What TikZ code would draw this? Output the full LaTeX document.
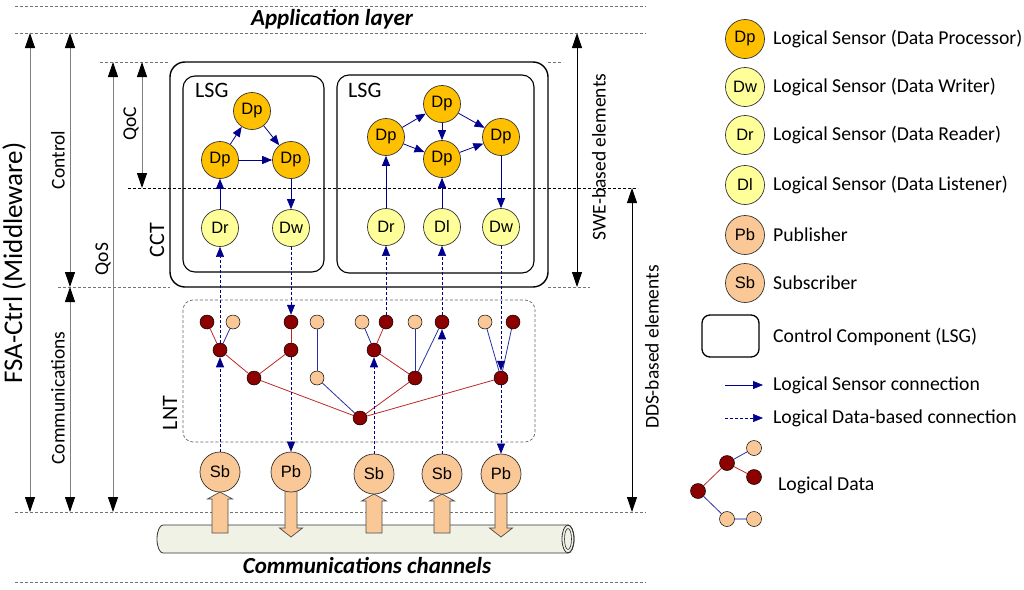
\documentclass[tikz,border=0pt]{standalone}
\usepackage{fontspec}
\setmainfont{Carlito}
\newfontfamily\arialf{Liberation Sans}
\usetikzlibrary{arrows.meta}

\definecolor{dpfill}{RGB}{255,192,0}
\definecolor{drfill}{RGB}{255,255,153}
\definecolor{pbfill}{RGB}{250,200,150}
\definecolor{ldred}{RGB}{140,0,0}
\definecolor{lnred}{RGB}{190,40,40}
\definecolor{lnblue}{RGB}{40,50,160}
\definecolor{lsblue}{RGB}{0,0,140}
\definecolor{pipefill}{RGB}{240,242,230}

\newcommand{\circfont}{\arialf\fontsize{16.5}{18}\selectfont}
\newcommand{\lgdfont}{\fontsize{19.7}{22}\selectfont}
\newcommand{\dimfont}{\fontsize{19.5}{22}\selectfont}
\newcommand{\bigfont}{\fontsize{27}{30}\selectfont}
\newcommand{\boxfont}{\fontsize{22}{26}\selectfont}
\newcommand{\titfont}{\bfseries\itshape\fontsize{23}{26}\selectfont}

% block arrows between pipe and pub/sub
\newcommand{\blkup}[3]{\filldraw[blk] (#1,#2) -- ({#1+12.5},{#2+7}) -- ({#1+8},{#2+7}) -- ({#1+8},#3) -- ({#1-8},#3) -- ({#1-8},{#2+7}) -- ({#1-12.5},{#2+7}) -- cycle;}
\newcommand{\blkdown}[3]{\filldraw[blk] ({#1-6},#2) -- ({#1+6},#2) -- ({#1+6},{#3-9}) -- ({#1+11.5},{#3-9}) -- (#1,#3) -- ({#1-11.5},{#3-9}) -- ({#1-6},{#3-9}) -- cycle;}

\begin{document}
\begin{tikzpicture}[x=1pt,y=-1pt,
  every node/.style={inner sep=0pt},
  lsnode/.style={circle,draw=black!80,line width=0.7pt,minimum size=37pt,font=\circfont},
  proc/.style={lsnode,fill=dpfill},
  rdr/.style={lsnode,fill=drfill},
  pubsub/.style={lsnode,fill=pbfill,minimum size=40pt},
  dred/.style={circle,draw=black,line width=0.5pt,fill=ldred,minimum size=14pt},
  dbeige/.style={circle,draw=black,line width=0.5pt,fill=pbfill,minimum size=14pt},
  lscon/.style={draw=lsblue,line width=0.8pt,-{Triangle[length=10pt,width=8pt]}},
  ldcon/.style={draw=lsblue,line width=0.6pt,dash pattern=on 3pt off 2pt,-{Triangle[length=10pt,width=8pt]}},
  rline/.style={draw=lnred,line width=0.8pt},
  bline/.style={draw=lnblue,line width=0.8pt},
  sepline/.style={draw=black!55,line width=0.7pt,dash pattern=on 3pt off 2pt},
  dimarr/.style={draw=black!50,line width=1pt,{Triangle[length=15pt,width=10pt,color=black]}-{Triangle[length=15pt,width=10pt,color=black]}},
  blk/.style={fill=pbfill,draw=black!70,line width=0.7pt},
  dimlbl/.style={rotate=90,font=\dimfont},
  lgd/.style={anchor=west,font=\lgdfont}]
  \useasboundingbox (0,0) rectangle (1024,589);

  % layer borders
  \draw[sepline] (15,6) -- (646,6);
  \draw[sepline] (15,33) -- (646,33);
  \draw[sepline] (100,62) -- (170,62);
  \draw[sepline] (548,62) -- (563,62);
  \draw[sepline,draw=black] (128,188) -- (638,188);
  \draw[sepline] (58,287) -- (170,287);
  \draw[sepline] (548,287) -- (590,287);
  \draw[sepline] (15,512) -- (646,512);
  \draw[sepline] (15,582) -- (646,582);

  \node[font=\titfont] (applayer) at (332,19) {Application layer};
  \node[font=\titfont] (commch) at (367,566) {Communications channels};

  % extents
  \draw[dimarr] (30,33) -- (30,512);
  \draw[dimarr] (70,33) -- (70,287);
  \draw[dimarr] (70,287) -- (70,512);
  \draw[dimarr] (113,62) -- (113,512);
  \draw[dimarr] (142,62) -- (142,188);
  \draw[dimarr,draw=black,line width=0.8pt] (577,33) -- (577,287);
  \draw[dimarr,draw=black,line width=0.8pt] (632,188) -- (632,512);
  \node[rotate=90,font=\bigfont] (fsa) at (14,263) {FSA-Ctrl (Middleware)};
  \node[dimlbl] (ctrl) at (58,160) {Control};
  \node[dimlbl] (comm) at (58,398) {Communications};
  \node[dimlbl] (qos) at (103,259) {QoS};
  \node[dimlbl] (qoc) at (131,124) {QoC};
  \node[dimlbl] (swe) at (599,157) {SWE-based elements};
  \node[dimlbl] (dds) at (652,347) {DDS-based elements};

  % CCT and LSG boxes
  \draw[line width=1.4pt,rounded corners=15pt] (170,62) rectangle (548,287);
  \draw[line width=1.1pt,rounded corners=12pt] (183,76) rectangle (324,272);
  \draw[line width=1.1pt,rounded corners=12pt] (337,75) rectangle (534,273);
  \node[rotate=90,font=\boxfont] (cct) at (157,240) {CCT};
  \node[anchor=west,font=\boxfont] (lsga) at (195,90) {LSG};
  \node[anchor=west,font=\boxfont] (lsgb) at (348,90) {LSG};

  % LSG 1
  \node[proc] (p1t) at (252,111) {Dp};
  \node[proc] (p1l) at (220,160) {Dp};
  \node[proc] (p1r) at (291,160) {Dp};
  \node[rdr] (dr1) at (220,228) {Dr};
  \node[rdr] (dw1) at (291,228) {Dw};
  \draw[lscon] (p1l) -- (p1t);
  \draw[lscon] (p1t) -- (p1r);
  \draw[lscon] (p1l) -- (p1r);
  \draw[lscon] (dr1) -- (p1l);
  \draw[lscon] (p1r) -- (dw1);

  % LSG 2
  \node[proc] (p2l) at (386,137) {Dp};
  \node[proc] (p2t) at (442,104) {Dp};
  \node[proc] (p2m) at (442,159) {Dp};
  \node[proc] (p2r) at (501,137) {Dp};
  \node[rdr] (dr2) at (386,227) {Dr};
  \node[rdr] (dl2) at (442,227) {Dl};
  \node[rdr] (dw2) at (501,227) {Dw};
  \draw[lscon] (p2l) -- (p2t);
  \draw[lscon] (p2l) -- (p2m);
  \draw[lscon] (p2t) -- (p2m);
  \draw[lscon] (p2t) -- (p2r);
  \draw[lscon] (p2m) -- (p2r);
  \draw[lscon] (dr2) -- (p2l);
  \draw[lscon] (dl2) -- (p2m);
  \draw[lscon] (p2r) -- (dw2);

  % LNT
  \draw[black!60,line width=0.7pt,dash pattern=on 3pt off 2pt,rounded corners=10pt] (183,300) rectangle (535,442);
  \node[rotate=90,font=\boxfont] (lnt) at (170,413) {LNT};
  \node[dred] (a1) at (207,322) {};
  \node[dbeige] (a2) at (233,322) {};
  \node[dred] (a3) at (291,322) {};
  \node[dbeige] (a4) at (317,322) {};
  \node[dbeige] (a5) at (362,322) {};
  \node[dred] (a6) at (386,322) {};
  \node[dbeige] (a7) at (415,322) {};
  \node[dred] (a8) at (442,322) {};
  \node[dbeige] (a9) at (485,322) {};
  \node[dred] (a10) at (513,322) {};
  \node[dred] (b1) at (220,350) {};
  \node[dred] (b2) at (291,350) {};
  \node[dred] (b3) at (374,350) {};
  \node[dred] (c1) at (254,378) {};
  \node[dbeige] (c2) at (317,378) {};
  \node[dred] (c3) at (415,378) {};
  \node[dred] (c4) at (501,378) {};
  \node[dred] (root) at (360,418) {};
  \draw[rline] (a1) -- (b1);
  \draw[bline] (a2) -- (b1);
  \draw[rline] (a3) -- (b2);
  \draw[rline] (b1) -- (c1);
  \draw[rline] (b2) -- (c1);
  \draw[bline] (a4) -- (c2);
  \draw[bline] (a5) -- (b3);
  \draw[rline] (a6) -- (b3);
  \draw[rline] (b3) -- (c3);
  \draw[bline] (a7) -- (c3);
  \draw[bline] (c3) -- (a8);
  \draw[bline] (a9) -- (c4);
  \draw[bline] (a10) -- (c4);
  \draw[rline] (c1) -- (root);
  \draw[bline] (c2) -- (root);
  \draw[rline] (c3) -- (root);
  \draw[rline] (c4) -- (root);

  % pipe
  \filldraw[fill=pipefill,draw=black!80,line width=0.8pt] (163,525) -- (568,525) arc (-90:90:6 and 14) -- (163,553) arc (90:270:6 and 14) -- cycle;
  \draw[black!80,line width=0.8pt] (568,539) ellipse (6 and 14);
  \draw[black!80,line width=0.6pt] (568,539) ellipse (3.5 and 10.5);

  \blkup{220}{492}{533}
  \blkdown{291}{490}{537}
  \blkup{374}{494}{533}
  \blkup{442}{494}{533}
  \blkdown{501}{492}{537}

  \node[pubsub] (sb1) at (220,472) {Sb};
  \node[pubsub] (pb1) at (291,472) {Pb};
  \node[pubsub] (sb2) at (374,474) {Sb};
  \node[pubsub] (sb3) at (442,474) {Sb};
  \node[pubsub] (pb2) at (501,474) {Pb};

  % data-based connections
  \draw[ldcon] (sb1) -- (b1);
  \draw[ldcon] (b1) -- (dr1);
  \draw[ldcon] (dw1) -- (a3);
  \draw[ldcon] (b2) -- (pb1);
  \draw[ldcon] (sb2) -- (b3);
  \draw[ldcon] (a6) -- (dr2);
  \draw[ldcon] (sb3) -- (a8);
  \draw[ldcon] (a8) -- (dl2);
  \draw[ldcon] (dw2) -- (c4);
  \draw[ldcon] (c4) -- (pb2);

  % legend
  \node[proc,minimum size=39pt] (kdp) at (745,39) {Dp};
  \node[rdr,minimum size=39pt] (kdw) at (745,87) {Dw};
  \node[rdr,minimum size=39pt] (kdr) at (745,135) {Dr};
  \node[rdr,minimum size=39pt] (kdl) at (745,185) {Dl};
  \node[pubsub,minimum size=39pt] (kpb) at (745,235) {Pb};
  \node[pubsub,minimum size=39pt] (ksb) at (745,283) {Sb};
  \node[lgd] (tdp) at (773,39) {Logical Sensor (Data Processor)};
  \node[lgd] (tdw) at (773,87) {Logical Sensor (Data Writer)};
  \node[lgd] (tdr) at (773,135) {Logical Sensor (Data Reader)};
  \node[lgd] (tdl) at (773,185) {Logical Sensor (Data Listener)};
  \node[lgd] (tpb) at (773,235) {Publisher};
  \node[lgd] (tsb) at (773,283) {Subscriber};
  \node[draw,line width=1.3pt,rounded corners=8pt,minimum width=57pt,minimum height=42pt] (kcc) at (730.5,336) {};
  \node[lgd] (tcc) at (773,337) {Control Component (LSG)};
  \coordinate (ks0) at (725,385);
  \coordinate (ks1) at (763,385);
  \draw[lscon] (ks0) -- (ks1);
  \node[lgd] (tks) at (773,385) {Logical Sensor connection};
  \coordinate (kd0) at (725,418);
  \coordinate (kd1) at (763,418);
  \draw[ldcon] (kd0) -- (kd1);
  \node[lgd] (tkd) at (773,418) {Logical Data-based connection};
  \node[dred,minimum size=15pt] (kr) at (698,491) {};
  \node[dred,minimum size=15pt] (kra) at (727,463) {};
  \node[dbeige,minimum size=15pt] (kba) at (754,448) {};
  \node[dred,minimum size=15pt] (krb) at (754,477) {};
  \node[dbeige,minimum size=15pt] (kbb) at (727,519) {};
  \node[dbeige,minimum size=15pt] (kbc) at (754,519) {};
  \draw[rline] (kr) -- (kra);
  \draw[bline] (kra) -- (kba);
  \draw[rline] (kra) -- (krb);
  \draw[bline] (kr) -- (kbb);
  \draw[draw=lnblue!45,line width=2pt] (kbb) -- (kbc);
  \node[lgd] (tld) at (778,485) {Logical Data};
\end{tikzpicture}
\end{document}
